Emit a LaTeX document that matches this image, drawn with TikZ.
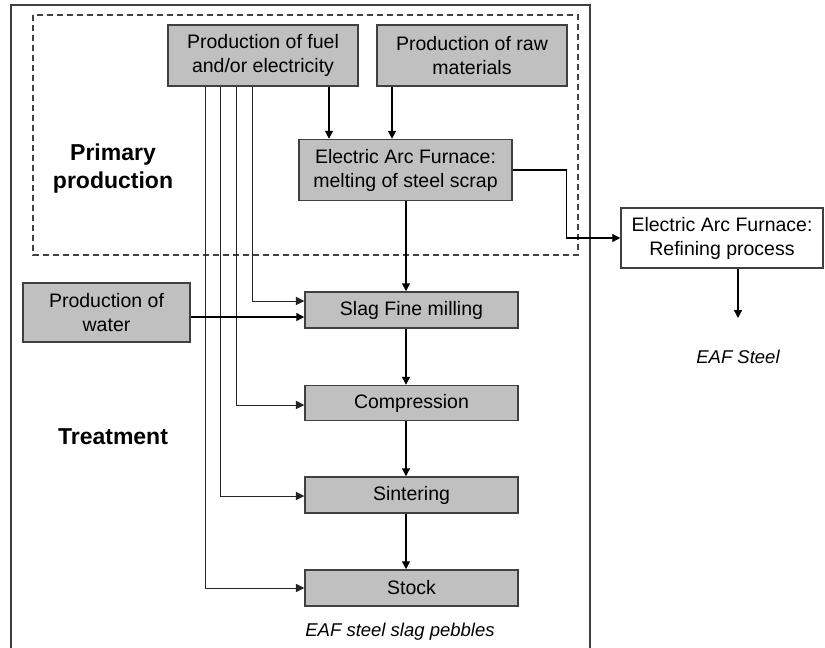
\documentclass[tikz,border=0pt]{standalone}
\usepackage{fontspec}
\setmainfont{Liberation Sans}
\usetikzlibrary{arrows.meta,calc}
\definecolor{boxgray}{HTML}{C0C0C0}
\definecolor{edgegray}{HTML}{404040}
\begin{document}
\begin{tikzpicture}[x=1pt,y=-1pt,
  procbox/.style={draw=edgegray,line width=1.5pt,fill=boxgray,align=center,
    inner sep=2pt,font=\fontsize{19.5}{24}\selectfont},
  flow/.style={line width=1.3pt,-{Triangle[length=8pt,width=8pt]}},
  feed/.style={line width=0.9pt,black!85,-{Triangle[length=8.5pt,width=8.5pt]}},
  heading/.style={font=\fontsize{23}{28}\selectfont\bfseries,align=center},
  product/.style={font=\fontsize{18.5}{22}\selectfont\itshape}]
\useasboundingbox (0,0) rectangle (825,648);
\begin{scope}
\clip (0,0) rectangle (825,648);
% system boundary
\draw[edgegray,line width=1.2pt] (11,660) -- (11,5) -- (590,5) -- (590,660);
\draw[edgegray,line width=1.5pt,dash pattern=on 6pt off 4pt] (33,15) rectangle (578,255);
\end{scope}

% process boxes
\node[procbox,minimum width=190,minimum height=61] (fuel) at (263,55.5) {Production of fuel\\and/or electricity};
\node[procbox,minimum width=190,minimum height=61] (raw) at (472,55.5) {Production of raw\\materials};
\node[procbox,minimum width=213,minimum height=61] (eaf) at (405.5,170) {Electric Arc Furnace:\\melting of steel scrap};
\node[procbox,fill=white,minimum width=202,minimum height=60] (refine) at (722,238) {Electric Arc Furnace:\\Refining process};
\node[procbox,minimum width=167,minimum height=59] (water) at (106.5,312.5) {Production of\\water};
\node[procbox,minimum width=213,minimum height=36] (slag) at (411.5,310) {Slag Fine milling};
\node[procbox,minimum width=213,minimum height=35] (compress) at (411.5,403) {Compression};
\node[procbox,minimum width=213,minimum height=36] (sinter) at (411.5,495) {Sintering};
\node[procbox,minimum width=213,minimum height=36] (stock) at (411.5,588) {Stock};

% stage labels and products
\node[heading] (primary) at (113,169) {Primary\\production};
\node[heading] (treat) at (113,437) {Treatment};
\node[product] (eafsteel) at (738,357) {EAF Steel};
\node[product] (pebbles) at (400,632) {EAF steel slag pebbles};

% reference columns and rows
\coordinate (cfuel) at (329,0);
\coordinate (craw) at (392,0);
\coordinate (cmain) at (406,0);
\coordinate (cref) at (738,0);
\coordinate (fa) at (205,0);
\coordinate (fb) at (220,0);
\coordinate (fc) at (236,0);
\coordinate (fd) at (252,0);
\coordinate (rslag) at (0,301);
\coordinate (rwater) at (0,317);
\coordinate (rcomp) at (0,405);
\coordinate (rsint) at (0,496);
\coordinate (rstock) at (0,588);
\coordinate (steelend) at (738,318);

% primary production flows
\draw[flow] (fuel.south -| cfuel) -- (eaf.north -| cfuel);
\draw[flow] (raw.south -| craw) -- (eaf.north -| craw);
\draw[flow] (eaf.south -| cmain) -- (slag.north -| cmain);
\draw[flow] (eaf.east) -- ++(54,0) |- (refine.west);
\draw[flow] (refine.south -| cref) -- (steelend);

% treatment chain
\draw[flow] (slag.south -| cmain) -- (compress.north -| cmain);
\draw[flow] (compress.south -| cmain) -- (sinter.north -| cmain);
\draw[flow] (sinter.south -| cmain) -- (stock.north -| cmain);

% energy and water supply
\draw[feed] (fuel.south -| fd) |- (slag.west |- rslag);
\draw[feed] (fuel.south -| fc) |- (compress.west |- rcomp);
\draw[feed] (fuel.south -| fb) |- (sinter.west |- rsint);
\draw[feed] (fuel.south -| fa) |- (stock.west |- rstock);
\draw[flow] (water.east |- rwater) -- (slag.west |- rwater);
\end{tikzpicture}
\end{document}
